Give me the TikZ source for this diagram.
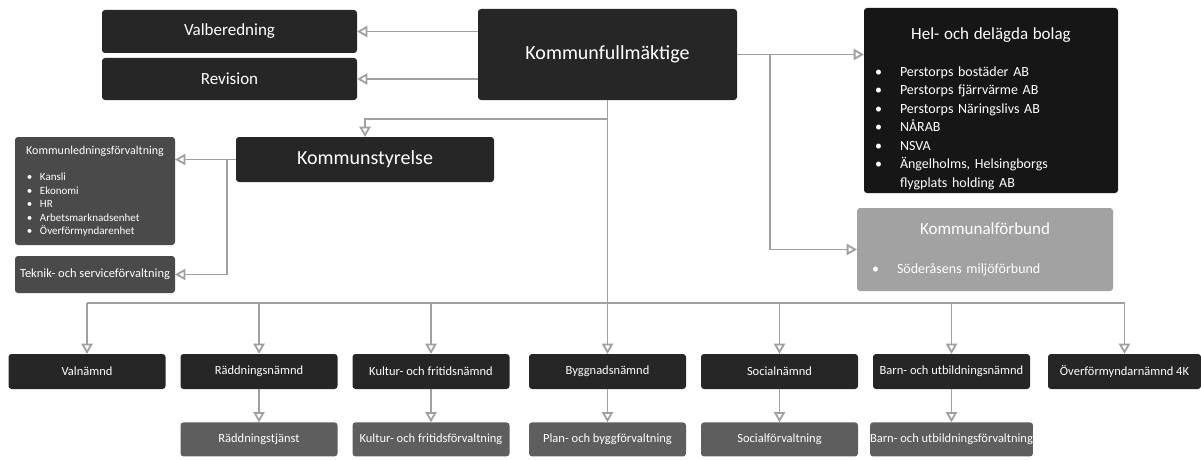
\documentclass[tikz,border=0pt]{standalone}
\usepackage{fontspec}
\setmainfont{Carlito}
\usetikzlibrary{shapes,positioning,arrows,calc}

\definecolor{boxblack}{HTML}{161616}
\definecolor{boxdark}{HTML}{262626}
\definecolor{boxmid}{HTML}{4A4A4A}
\definecolor{boxgrey}{HTML}{5E5E5E}
\definecolor{boxlight}{HTML}{A2A2A2}
\definecolor{linegrey}{HTML}{A0A0A0}
\newcommand{\bul}{\makebox[25pt][l]{\textbullet}}
\newcommand{\smallbul}{\makebox[13pt][l]{\textbullet}}

\begin{document}
\begin{tikzpicture}[>= open triangle 60,
  x=1pt, y=-1pt,
  box/.style={rectangle, rounded corners=3pt, text=white, inner sep=0pt, align=center},
  darkbox/.style={box, fill=boxdark},
  nbox/.style={darkbox, minimum width=157pt, minimum height=35pt, font=\fontsize{12.5}{15}\selectfont},
  fbox/.style={box, fill=boxgrey, minimum width=157pt, minimum height=34pt, font=\fontsize{12.5}{15}\selectfont},
  link/.style={draw=linegrey, line width=1.8pt},
  ]
	\useasboundingbox (0,0) rectangle (1201,460);

	\node [darkbox, minimum width=259pt, minimum height=91pt, font=\fontsize{20}{24}\selectfont] (kf) at (607.5,54.5) {Kommunfullmäktige};
	\node [darkbox, minimum width=255pt, minimum height=43pt, font=\fontsize{17}{20}\selectfont] (valb) at (229.5,31.5) {Valberedning};
	\node [darkbox, minimum width=255pt, minimum height=42pt, font=\fontsize{17}{20}\selectfont] (rev) at (229.5,79) {Revision};
	\node [darkbox, minimum width=258pt, minimum height=45pt, font=\fontsize{20}{24}\selectfont] (ks) at (365,159.5) {Kommunstyrelse};

	\node [box, fill=boxblack, minimum width=254pt, minimum height=185pt, text width=232pt, align=left,
	  font=\fontsize{14}{18.5}\selectfont] (bolag) at (991,100.5) {%
	  \rule{0pt}{28pt}\makebox[232pt][c]{\fontsize{17}{20}\selectfont Hel- och delägda bolag}\\[18pt]
	  \bul Perstorps bostäder AB\\
	  \bul Perstorps fjärrvärme AB\\
	  \bul Perstorps Näringslivs AB\\
	  \bul NÅRAB\\
	  \bul NSVA\\
	  \bul Ängelholms, Helsingborgs\\
	  \hspace*{25pt}flygplats holding AB};
	\node [box, fill=boxlight, minimum width=256pt, minimum height=83pt, text width=226pt, align=left,
	  font=\fontsize{14}{18.5}\selectfont] (kforb) at (985,249.5) {%
	  \makebox[226pt][c]{\fontsize{17}{20}\selectfont Kommunalförbund}\\[20pt]
	  \bul Söderåsens miljöförbund};

	\node [box, fill=boxmid, minimum width=160pt, minimum height=108pt, text width=136pt, align=left,
	  font=\fontsize{11}{13.5}\selectfont] (kled) at (95,191) {%
	  \makebox[136pt][c]{\fontsize{12}{14}\selectfont Kommunledningsförvaltning}\\[13pt]
	  \smallbul Kansli\\
	  \smallbul Ekonomi\\
	  \smallbul HR\\
	  \smallbul Arbetsmarknadsenhet\\
	  \smallbul Överförmyndarenhet};
	\node [box, fill=boxmid, minimum width=160pt, minimum height=37pt, font=\fontsize{12.5}{15}\selectfont] (tekn) at (95,274.5) {Teknik- och serviceförvaltning};

	\node [nbox] (valn) at (87,371.5) {Valnämnd};
	\node [nbox] (radd) at (259,371.5) {Räddningsnämnd};
	\node [nbox] (kult) at (431,371.5) {Kultur- och fritidsnämnd};
	\node [nbox] (bygg) at (607.5,371.5) {Byggnadsnämnd};
	\node [nbox] (soc) at (779.5,371.5) {Socialnämnd};
	\node [nbox] (barn) at (951.5,371.5) {Barn- och utbildningsnämnd};
	\node [nbox, minimum width=153pt] (overf) at (1124.5,371.5) {Överförmyndarnämnd 4K};

	\node [fbox, below=33pt of radd] (raddtj) {Räddningstjänst};
	\node [fbox, below=33pt of kult] (kultf) {Kultur- och fritidsförvaltning};
	\node [fbox, below=33pt of bygg] (planf) {Plan- och byggförvaltning};
	\node [fbox, below=33pt of soc] (socf) {Socialförvaltning};
	\node [fbox, below=33pt of barn] (barnf) {Barn- och utbildningsförvaltning};

	\coordinate (bus) at (0,303);
	\coordinate (ksjoin) at (607.5,119);
	\coordinate (ksleft) at (227,159.5);
	\coordinate (kfright) at (770,54.5);

	\draw [link,->] (kf.west |- valb) -- (valb.east);
	\draw [link,->] (kf.west |- rev) -- (rev.east);
	\draw [link,->] (kf.east) -- (bolag.west |- kf.east);
	\draw [link,->] (kfright) |- (kforb.west);
	\draw [link] (kf.south) -- (kf.south |- bus);
	\draw [link,->] (ksjoin) -| (ks.north);
	\draw [link,->] (ks.west) -- (kled.east |- ks.west);
	\draw [link,->] (ksleft) |- (tekn.east);
	\draw [link] (valn.north |- bus) -- (overf.north |- bus);
	\foreach \n in {valn,radd,kult,bygg,soc,barn,overf}
		\draw [link,->] (\n.north |- bus) -- (\n.north);
	\foreach \a/\b in {radd/raddtj,kult/kultf,bygg/planf,soc/socf,barn/barnf}
		\draw [link,->] (\a) -- (\b);
\end{tikzpicture}
\end{document}
